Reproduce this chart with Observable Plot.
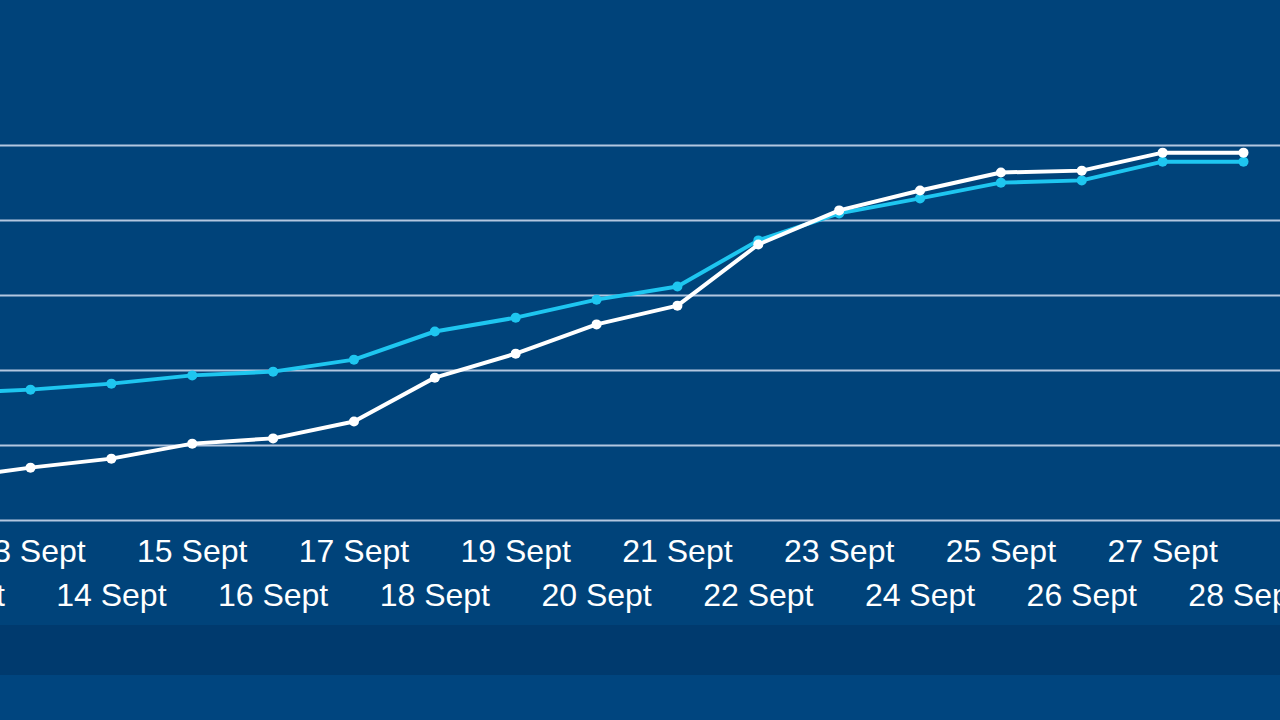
<!DOCTYPE html>
<html>
<head>
<meta charset="utf-8">
<script src="https://cdn.jsdelivr.net/npm/d3@7"></script>
<script src="https://cdn.jsdelivr.net/npm/@observablehq/plot@0.6"></script>
<style>
  html, body { margin: 0; padding: 0; width: 1280px; height: 720px; overflow: hidden; background: #00437a; }
  svg { display: block; }
</style>
</head>
<body>
<div id="chart"></div>
<script>
// Days of September shown on the x axis
const days = [12, 13, 14, 15, 16, 17, 18, 19, 20, 21, 22, 23, 24, 25, 26, 27, 28];
// White series (arbitrary units)
const whiteSeries = [11.2, 14.1, 16.5, 20.5, 21.9, 26.4, 38.1, 44.5, 52.3, 57.3, 73.6, 82.7, 88.0, 92.8, 93.3, 98.1, 98.1];
// Cyan series
const cyanSeries = [33.9, 34.9, 36.5, 38.7, 39.7, 42.9, 50.4, 54.1, 58.9, 62.4, 74.7, 81.9, 85.9, 90.1, 90.7, 95.7, 95.7];
// Gridline values
const gridValues = [0, 20, 40, 60, 80, 100];
// Tick labels
const topRowDays = days.filter(d => d % 2 === 1);
const bottomRowDays = days.filter(d => d % 2 === 0);
const tickLabel = d => `${d} Sept`;

const white = days.map((d, i) => ({day: d, value: whiteSeries[i]}));
const cyan = days.map((d, i) => ({day: d, value: cyanSeries[i]}));

const chart = Plot.plot({
  width: 1280,
  height: 720,
  marginLeft: 0,
  marginRight: 0,
  marginTop: 0,
  marginBottom: 200,
  style: {
    background: "linear-gradient(to bottom, #00437a 0px, #00437a 625px, #003a6e 625px, #003a6e 675px, #00457f 675px)",
    fontFamily: "'Liberation Sans', Arial, sans-serif",
    color: "white",
    overflow: "hidden"
  },
  x: {type: "linear", domain: [13, 28], range: [30, 1243]},
  y: {type: "linear", domain: [0, 100], range: [520, 145], axis: null},
  marks: [
    Plot.ruleY(gridValues, {stroke: "#b3c7e0", strokeWidth: 2}),
    Plot.axisX({
      ticks: topRowDays, tickFormat: tickLabel, tickSize: 0, tickPadding: 19,
      fontSize: 32, fill: "white", stroke: "white", strokeWidth: 0.4, label: null
    }),
    Plot.axisX({
      ticks: bottomRowDays, tickFormat: tickLabel, tickSize: 0, tickPadding: 63,
      fontSize: 32, fill: "white", stroke: "white", strokeWidth: 0.4, label: null
    }),
    Plot.line(cyan, {x: "day", y: "value", stroke: "#1ec6f0", strokeWidth: 4}),
    Plot.dot(cyan, {x: "day", y: "value", fill: "#1ec6f0", r: 5}),
    Plot.line(white, {x: "day", y: "value", stroke: "white", strokeWidth: 4}),
    Plot.dot(white, {x: "day", y: "value", fill: "white", r: 5})
  ]
});
document.getElementById("chart").appendChild(chart);
</script>
</body>
</html>
